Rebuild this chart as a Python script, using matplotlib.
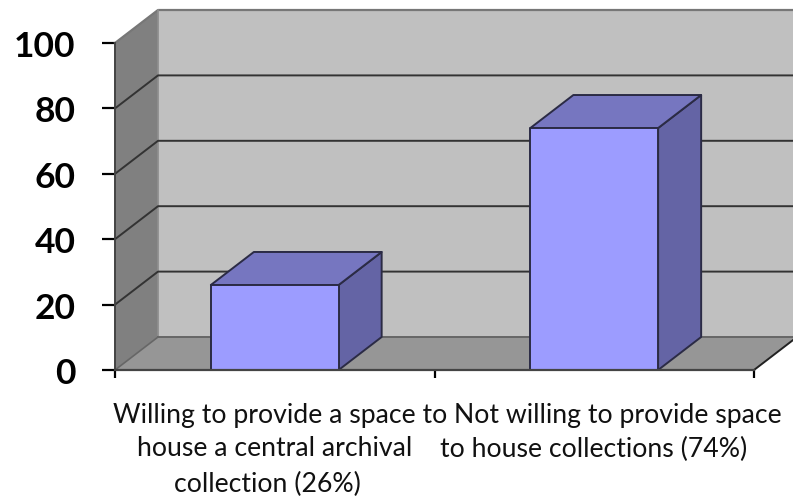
#!/usr/bin/env python3
import matplotlib
matplotlib.use('Agg')
import matplotlib.pyplot as plt
from matplotlib.patches import Polygon
from matplotlib.transforms import blended_transform_factory

# each label is typed line by line, the original lines are not quite centred
label_lines = [['Willing to provide a space to', 'house a central archival', 'collection (26%)'],
               ['Not willing to provide space', 'to house collections (74%)']]
label_centres = [[0.518, 0.50, 0.478],
                 [1.574, 1.499]]
label_rows = [415, 449, 484]
values = [26, 74]
y_ticks = [0, 20, 40, 60, 80, 100]

W, H = 793, 502
# front plane of the fake 3d box, in pixels
LEFT, RIGHT, TOP, BOTTOM = 115, 754, 44, 371
BAR_W = 0.40
DX = 43 / ((RIGHT - LEFT) / 2)   # depth in category units
DY = 33 / (BOTTOM - TOP) * 100   # depth in value units

EDGE = '#2b2b45'

fig = plt.figure(figsize=(W / 100, H / 100), dpi=100)
ax = fig.add_axes([LEFT / W, 1 - BOTTOM / H, (RIGHT - LEFT) / W, (BOTTOM - TOP) / H])
ax.set_xlim(0, 2)
ax.set_ylim(0, 100)
ax.patch.set_visible(False)
for s in ax.spines.values():
    s.set_visible(False)


def poly(pts, fc, ec='#555555', lw=1.2, z=1):
    ax.add_patch(Polygon(pts, closed=True, facecolor=fc, edgecolor=ec, lw=lw,
                         zorder=z, clip_on=False, joinstyle='round'))


# walls and floor
x_end = 2 + DX
poly([(DX, DY), (x_end, DY), (x_end, 100 + DY), (DX, 100 + DY)], '#c0c0c0', '#c0c0c0', 0.5)
poly([(0, 0), (DX, DY), (DX, 100 + DY), (0, 100)], '#808080', '#808080', 0.5)
poly([(0, 0), (2, 0), (x_end, DY), (DX, DY)], '#969696', '#969696', 0.5)

# top and left edges of the walls
ax.plot([0, DX, x_end], [100, 100 + DY, 100 + DY], color='#777777', lw=1.6, zorder=2,
        clip_on=False)
ax.plot([DX, DX], [DY, 100 + DY], color='#8f8f8f', lw=1.2, zorder=2, clip_on=False)
ax.plot([DX, x_end], [DY, DY], color='#666666', lw=1.4, zorder=2, clip_on=False)
ax.plot([0, DX], [0, DY], color='#666666', lw=1.2, zorder=2, clip_on=False)
ax.plot([2, x_end], [0, DY], color='#222222', lw=1.4, zorder=2, clip_on=False)

# gridlines
for t in y_ticks[1:-1]:
    ax.plot([0, DX, x_end], [t, t + DY, t + DY], color='#333333', lw=1.4, zorder=2,
            clip_on=False)

# bars
for i, v in enumerate(values):
    x0 = i + 0.5 - BAR_W / 2
    x1 = x0 + BAR_W
    poly([(x1, 0), (x1 + DX, DY), (x1 + DX, v + DY), (x1, v)], '#6464a5', EDGE, 1.4, 3)
    poly([(x0, v), (x1, v), (x1 + DX, v + DY), (x0 + DX, v + DY)], '#7676c0', EDGE, 1.4, 3)
    poly([(x0, 0), (x1, 0), (x1, v), (x0, v)], '#9c9cff', EDGE, 1.4, 4)

# axis lines on top
ax.plot([0, 0], [0, 100], color='#444444', lw=1.4, zorder=5, clip_on=False)
ax.plot([0, 2], [0, 0], color='#444444', lw=1.6, zorder=5, clip_on=False)

ax.set_yticks(y_ticks)
ax.set_yticklabels([str(t) for t in y_ticks], fontsize=25.5, fontweight='bold',
                   family='Lato', color='black')
ax.set_xticks([0, 1, 2])
ax.set_xticklabels([])
ax.tick_params(axis='y', length=9.5, width=1.6, color='black', pad=19)
ax.tick_params(axis='x', length=6, width=1.6, color='black')

# category labels
tr = blended_transform_factory(ax.transData, fig.transFigure)
for lines, centres in zip(label_lines, label_centres):
    for line, x, row in zip(lines, centres, label_rows):
        ax.text(x, 1 - row / H, line, transform=tr, ha='center', va='center', fontsize=19.2,
                family='Lato', color='#111111', clip_on=False)

fig.savefig('out.png', dpi=100)
